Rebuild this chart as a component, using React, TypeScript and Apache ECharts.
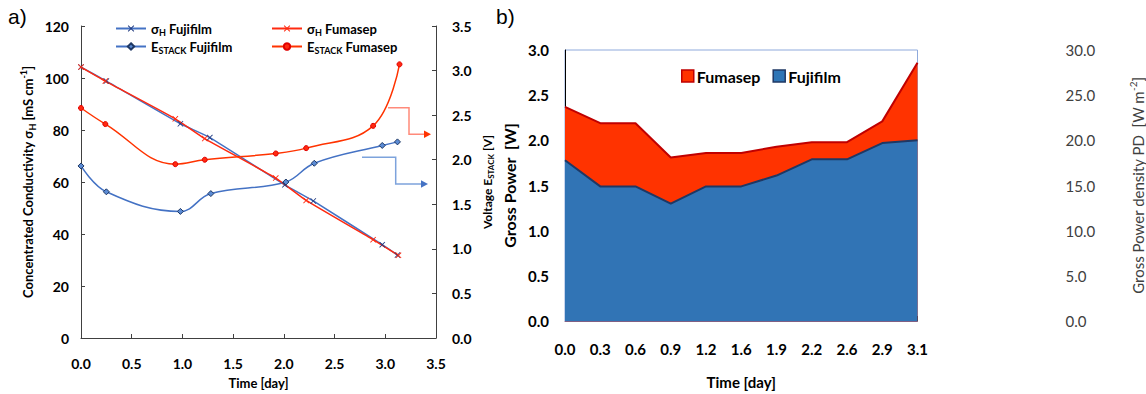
import React, { useEffect, useRef } from "react";
import * as echarts from "echarts";

// ---- Panel a) data ----
const sigmaFujiDays = [0, 0.25, 0.98, 1.27, 2.01, 2.29, 2.97, 3.12];
const sigmaFujiValues = [104.2, 98.8, 82.4, 77.1, 58.9, 52.7, 35.9, 31.9];
const sigmaFumaDays = [0, 0.24, 0.93, 1.22, 1.92, 2.22, 2.88, 3.13];
const sigmaFumaValues = [104.2, 98.8, 84.3, 76.7, 61.5, 52.9, 37.8, 31.8];
const eFujiDays = [0, 0.25, 0.98, 1.28, 2.02, 2.3, 2.97, 3.12];
const eFujiValues = [1.93, 1.64, 1.42, 1.62, 1.75, 1.96, 2.16, 2.2];
const eFumaDays = [0, 0.24, 0.93, 1.22, 1.92, 2.22, 2.88, 3.14];
const eFumaValues = [2.58, 2.4, 1.95, 2.0, 2.07, 2.13, 2.38, 3.07];

// ---- Panel b) data ----
const powerDays = ["0.0", "0.3", "0.6", "0.9", "1.2", "1.6", "1.9", "2.2", "2.6", "2.9", "3.1"];
const fujiPower = [1.78, 1.49, 1.49, 1.3, 1.49, 1.49, 1.61, 1.79, 1.79, 1.97, 2.0];
const fumaPower = [2.37, 2.19, 2.19, 1.81, 1.86, 1.86, 1.93, 1.98, 1.98, 2.21, 2.86];

const FONT = "Lato";
const pairs = (xs: number[], ys: number[]) => xs.map((x, i) => [x, ys[i]]);

const X_SYMBOL =
  "path://M0,1 L1,0 L5,4 L9,0 L10,1 L6,5 L10,9 L9,10 L5,6 L1,10 L0,9 L4,5 Z";

const legendNames: Record<string, string> = {
  "σH Fujifilm": "{b|σ}{s|H}{b| Fujifilm}",
  "ESTACK Fujifilm": "{b|E}{s|STACK}{b| Fujifilm}",
  "σH Fumasep": "{b|σ}{s|H}{b| Fumasep}",
  "ESTACK Fumasep": "{b|E}{s|STACK}{b| Fumasep}",
};

const richSmall = {
  b: { fontSize: 13, fontWeight: "bold", fontFamily: FONT, color: "#000", lineHeight: 17 },
  s: { fontSize: 9, fontWeight: "bold", fontFamily: FONT, color: "#000", verticalAlign: "bottom", lineHeight: 9 },
};

export default function App() {
  const ref = useRef<HTMLDivElement>(null);
  useEffect(() => {
    if (!ref.current) return;
    const chart = echarts.init(ref.current, null, { renderer: "svg" });
    const axisLineA = { show: true, lineStyle: { color: "#404040", width: 1 } };
    const option: any = {
      animation: false,
      backgroundColor: "#fff",
      textStyle: { fontFamily: FONT },
      grid: [
        { left: 81, top: 26, width: 355, height: 322 },
        {
          left: 565, top: 50, width: 357, height: 278,
          show: true, borderColor: "#8FAADC", borderWidth: 1, backgroundColor: "transparent",
        },
      ],
      legend: [
        {
          left: 110, top: 17, orient: "vertical", itemGap: 3, itemWidth: 30, itemHeight: 8,
          data: ["σH Fujifilm", "ESTACK Fujifilm"],
          formatter: (n: string) => legendNames[n],
          textStyle: { rich: richSmall },
        },
        {
          left: 266, top: 17, orient: "vertical", itemGap: 3, itemWidth: 30, itemHeight: 8,
          data: ["σH Fumasep", "ESTACK Fumasep"],
          formatter: (n: string) => legendNames[n],
          textStyle: { rich: richSmall },
        },
        {
          left: 676, top: 63, itemGap: 12, itemWidth: 12, itemHeight: 12, icon: "rect",
          data: [
            { name: "Fumasep", itemStyle: { color: "#FF3300", borderColor: "#C00000", borderWidth: 1.5 } },
            { name: "Fujifilm", itemStyle: { color: "#2E75B6", borderColor: "#1F3864", borderWidth: 1.5 } },
          ],
          textStyle: { fontSize: 16, fontWeight: "bold", fontFamily: FONT, color: "#000", padding: [0, 0, 0, -2] },
        },
      ],
      xAxis: [
        {
          gridIndex: 0, type: "value", min: 0, max: 3.5, interval: 0.5,
          axisLine: axisLineA,
          axisTick: { show: true, inside: true, length: 4, lineStyle: { color: "#404040" } },
          splitLine: { show: false },
          axisLabel: { margin: 18, fontSize: 14, fontWeight: "bold", color: "#000", fontFamily: FONT, formatter: (v: number) => v.toFixed(1) },
          name: "Time [day]", nameLocation: "middle", nameGap: 38,
          nameTextStyle: { fontSize: 13, fontWeight: "bold", color: "#000", fontFamily: FONT },
        },
        {
          gridIndex: 1, type: "category", data: powerDays, boundaryGap: false,
          axisLine: { show: true, lineStyle: { color: "#7F6084", width: 1 } },
          axisTick: { show: true, inside: true, length: 5, lineStyle: { color: "#000" } },
          axisLabel: { margin: 20, fontSize: 15, fontWeight: "bold", color: "#000", fontFamily: FONT },
          name: "Time [day]", nameLocation: "middle", nameGap: 53,
          nameTextStyle: { fontSize: 15, fontWeight: "bold", color: "#000", fontFamily: FONT },
        },
      ],
      yAxis: [
        {
          gridIndex: 0, type: "value", min: 0, max: 120, interval: 20, position: "left",
          axisLine: axisLineA,
          axisTick: { show: true, inside: true, length: 4, lineStyle: { color: "#404040" } },
          splitLine: { show: false },
          axisLabel: { margin: 12, fontSize: 14, fontWeight: "bold", color: "#000", fontFamily: FONT },
          name: "{n|Concentrated Conductivity σ}{s|H}{n| [mS cm}{p|-1}{n|]}",
          nameLocation: "middle", nameGap: 44, nameRotate: 90,
          nameTextStyle: {
            rich: {
              n: { fontSize: 13, fontWeight: "bold", fontFamily: FONT, color: "#000", lineHeight: 18 },
              s: { fontSize: 9, fontWeight: "bold", fontFamily: FONT, color: "#000", verticalAlign: "bottom", lineHeight: 9 },
              p: { fontSize: 9, fontWeight: "bold", fontFamily: FONT, color: "#000", verticalAlign: "top", lineHeight: 9 },
            },
          },
        },
        {
          gridIndex: 0, type: "value", min: 0, max: 3.5, interval: 0.5, position: "right",
          axisLine: axisLineA,
          axisTick: { show: true, inside: true, length: 4, lineStyle: { color: "#404040" } },
          splitLine: { show: false },
          axisLabel: { margin: 16, fontSize: 14, fontWeight: "bold", color: "#000", fontFamily: FONT, formatter: (v: number) => v.toFixed(1) },
          name: "{n|Voltage E}{s|STACK}{n| [V]}",
          nameLocation: "middle", nameGap: 43, nameRotate: 90,
          nameTextStyle: {
            rich: {
              n: { fontSize: 12, fontWeight: "bold", fontFamily: FONT, color: "#000", lineHeight: 16 },
              s: { fontSize: 8, fontWeight: "bold", fontFamily: FONT, color: "#000", verticalAlign: "bottom", lineHeight: 8 },
            },
          },
        },
        {
          gridIndex: 1, type: "value", min: 0, max: 3, interval: 0.5, position: "left",
          axisLine: { show: true, lineStyle: { color: "#000", width: 1 } },
          axisTick: { show: false },
          splitLine: { show: false },
          axisLabel: { margin: 16, fontSize: 15, fontWeight: "bold", color: "#000", fontFamily: FONT, formatter: (v: number) => v.toFixed(1) },
          name: "Gross Power  [W]", nameLocation: "middle", nameGap: 48, nameRotate: 90,
          nameTextStyle: { fontSize: 16, fontWeight: "bold", color: "#000", fontFamily: FONT },
        },
        {
          gridIndex: 1, type: "value", min: 0, max: 30, interval: 5, position: "right",
          axisLine: { show: false }, axisTick: { show: false }, splitLine: { show: false },
          axisLabel: { margin: 148, fontSize: 15, color: "#404040", fontFamily: FONT, formatter: (v: number) => v.toFixed(1) },
          name: "{n|Gross Power density PD  [W m}{p|-2}{n|]}",
          nameLocation: "middle", nameGap: 210, nameRotate: 90,
          nameTextStyle: {
            rich: {
              n: { fontSize: 15, fontFamily: FONT, color: "#404040", lineHeight: 20 },
              p: { fontSize: 10, fontFamily: FONT, color: "#404040", verticalAlign: "top", lineHeight: 10 },
            },
          },
        },
      ],
      series: [
        {
          name: "σH Fujifilm", type: "line", xAxisIndex: 0, yAxisIndex: 0,
          data: pairs(sigmaFujiDays, sigmaFujiValues), smooth: 0.15,
          symbol: X_SYMBOL, symbolSize: 6,
          lineStyle: { color: "#4472C4", width: 1.5 },
          itemStyle: { color: "#203A80" },
        },
        {
          name: "ESTACK Fujifilm", type: "line", xAxisIndex: 0, yAxisIndex: 1,
          data: pairs(eFujiDays, eFujiValues), smooth: 0.4,
          symbol: "diamond", symbolSize: 6,
          lineStyle: { color: "#4472C4", width: 1.5 },
          itemStyle: { color: "#5B8BD4", borderColor: "#1F3864", borderWidth: 1 },
        },
        {
          name: "σH Fumasep", type: "line", xAxisIndex: 0, yAxisIndex: 0,
          data: pairs(sigmaFumaDays, sigmaFumaValues), smooth: 0.15,
          symbol: X_SYMBOL, symbolSize: 6,
          lineStyle: { color: "#FF2A10", width: 1.5 },
          itemStyle: { color: "#FF2A10" },
        },
        {
          name: "ESTACK Fumasep", type: "line", xAxisIndex: 0, yAxisIndex: 1,
          data: pairs(eFumaDays, eFumaValues), smooth: 0.4,
          symbol: "circle", symbolSize: 5,
          lineStyle: { color: "#FF3300", width: 1.5 },
          itemStyle: { color: "#FF2A10", borderColor: "#E00000", borderWidth: 1 },
        },
        {
          name: "Fumasep", type: "line", xAxisIndex: 1, yAxisIndex: 2,
          data: fumaPower, showSymbol: false, symbol: "none",
          lineStyle: { color: "#C00000", width: 2 },
          areaStyle: { color: "#FF3300", opacity: 1 },
          itemStyle: { color: "#FF3300" },
          z: 2,
        },
        {
          name: "Fujifilm", type: "line", xAxisIndex: 1, yAxisIndex: 2,
          data: fujiPower, showSymbol: false, symbol: "none",
          lineStyle: { color: "#1F3864", width: 2 },
          areaStyle: { color: "#3174B5", opacity: 1 },
          itemStyle: { color: "#2E75B6" },
          z: 3,
        },
      ],
      graphic: [
        { type: "text", left: 8, top: 6, style: { text: "a)", fontSize: 21, fontFamily: "Liberation Sans", fill: "#000" } },
        { type: "text", left: 496, top: 6, style: { text: "b)", fontSize: 21, fontFamily: "Liberation Sans", fill: "#000" } },
        {
          type: "polyline",
          shape: { points: [[388, 107.7], [409, 107.7], [409, 134.3], [425, 134.3]] },
          style: { stroke: "#FF8A7A", lineWidth: 1.5, fill: "none" },
        },
        { type: "polygon", shape: { points: [[424, 130.5], [431, 134.3], [424, 138]] }, style: { fill: "#FF3300" } },
        {
          type: "polyline",
          shape: { points: [[362, 157.3], [395.7, 157.3], [395.7, 184], [422, 184]] },
          style: { stroke: "#7DA3DC", lineWidth: 1.5, fill: "none" },
        },
        { type: "polygon", shape: { points: [[421, 180.2], [428, 184], [421, 187.8]] }, style: { fill: "#4472C4" } },
      ],
    };
    chart.setOption(option);
    return () => chart.dispose();
  }, []);
  return (
    <div
      ref={ref}
      style={{ position: "fixed", left: 0, top: 0, width: 1146, height: 394 }}
    />
  );
}
